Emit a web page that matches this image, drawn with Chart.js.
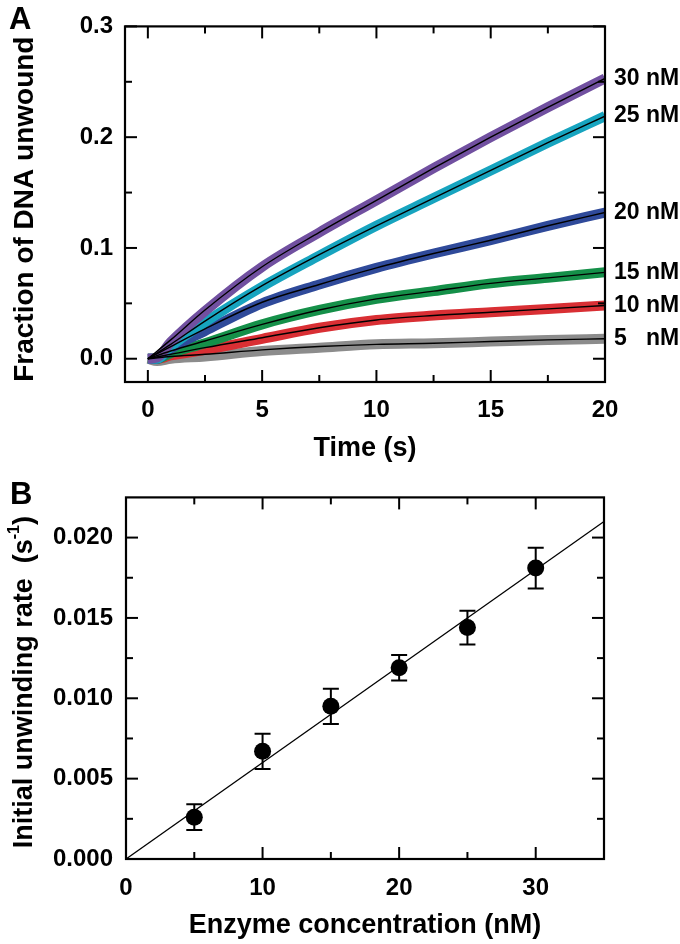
<!DOCTYPE html>
<html>
<head>
<meta charset="utf-8">
<script src="https://cdn.jsdelivr.net/npm/chart.js@4.4.1/dist/chart.umd.min.js"></script>
<style>
html, body { margin: 0; padding: 0; background: #fff; }
#wrapA { position: absolute; left: 0; top: 0; width: 680px; height: 470px; }
#wrapB { position: absolute; left: 0; top: 470px; width: 680px; height: 474px; }
</style>
</head>
<body>
<div id="wrapA"><canvas id="chartA"></canvas></div>
<div id="wrapB"><canvas id="chartB"></canvas></div>
<script>
// ---- panel A: unwinding time courses ----
const concLabels = ['30 nM', '25 nM', '20 nM', '15 nM', '10 nM', '5   nM'];
const colorsA = ['#7150a0', '#17a4bf', '#2f4a9a', '#159049', '#d92f34', '#8c8c8c'];

// time points of the raw traces (band centre) and of the fitted curves
const timeTrace = [0, 0.4, 1, 2.5, 5, 7.5, 10, 12.5, 15, 17.5, 20];
const trace30 = [0, 0.001, 0.015, 0.043, 0.083, 0.114, 0.143, 0.172, 0.200, 0.227, 0.253];
const trace25 = [0, 0.000, 0.011, 0.033, 0.065, 0.093, 0.120, 0.145, 0.170, 0.195, 0.219];
const trace20 = [0, 0.000, 0.009, 0.025, 0.050, 0.067, 0.082, 0.095, 0.107, 0.120, 0.132];
const trace15 = [0, 0.000, 0.005, 0.014, 0.031, 0.044, 0.054, 0.061, 0.068, 0.073, 0.078];
const trace10 = [0, 0.000, 0.003, 0.008, 0.018, 0.028, 0.035, 0.039, 0.042, 0.045, 0.048];
const trace5  = [0, -0.002, 0.000, 0.002, 0.007, 0.010, 0.013, 0.014, 0.0155, 0.017, 0.018];

const timeFit = [0, 1, 2.5, 5, 7.5, 10, 12.5, 15, 17.5, 20];
const fit30 = [0, 0.017, 0.044, 0.083, 0.114, 0.143, 0.172, 0.200, 0.227, 0.253];
const fit25 = [0, 0.013, 0.034, 0.066, 0.094, 0.120, 0.145, 0.170, 0.195, 0.219];
const fit20 = [0, 0.011, 0.027, 0.051, 0.067, 0.082, 0.095, 0.107, 0.120, 0.132];
const fit15 = [0, 0.007, 0.016, 0.031, 0.044, 0.054, 0.061, 0.068, 0.073, 0.078];
const fit10 = [0, 0.004, 0.010, 0.019, 0.028, 0.035, 0.039, 0.042, 0.045, 0.048];
const fit5  = [0, 0.002, 0.004, 0.008, 0.011, 0.013, 0.014, 0.0155, 0.017, 0.018];

const xTicksA = [0, 5, 10, 15, 20];
const xMinorA = [2.5, 7.5, 12.5, 17.5];
const yTicksA = [0, 0.1, 0.2, 0.3];
const yMinorA = [0.05, 0.15, 0.25];

// ---- panel B: initial rate vs enzyme ----
const concB = [5, 10, 15, 20, 25, 30];
const rateB = [0.0026, 0.0067, 0.0095, 0.0119, 0.0144, 0.0181];
const errB  = [0.0008, 0.0011, 0.0011, 0.0008, 0.00105, 0.00127];
const fitXB = [0, 35];
const fitYB = [0, 0.021];

const xTicksB = [0, 10, 20, 30];
const xMinorB = [5, 15, 25];
const yTicksB = [0, 0.005, 0.010, 0.015, 0.020];
const yMinorB = [0.0025, 0.0075, 0.0125, 0.0175];

const FONT = '"Liberation Sans", Arial, sans-serif';
const toXY = (xs, ys) => xs.map((x, i) => ({x: x, y: ys[i]}));

// frame with inward ticks on all four sides
const framePlugin = {
  id: 'frame',
  afterDraw(chart, args, o) {
    const {ctx, chartArea: a} = chart;
    const x = chart.scales.x, y = chart.scales.y;
    ctx.save();
    ctx.strokeStyle = '#000';
    ctx.lineWidth = 2.2;
    ctx.strokeRect(a.left, a.top, a.right - a.left, a.bottom - a.top);
    ctx.lineWidth = 2;
    const seg = (x1, y1, x2, y2) => { ctx.beginPath(); ctx.moveTo(x1, y1); ctx.lineTo(x2, y2); ctx.stroke(); };
    const xt = (list, len) => list.forEach(v => {
      const p = x.getPixelForValue(v);
      seg(p, a.bottom, p, a.bottom - len);
      seg(p, a.top, p, a.top + len);
    });
    const yt = (list, len) => list.forEach(v => {
      const p = y.getPixelForValue(v);
      seg(a.left, p, a.left + len, p);
      seg(a.right, p, a.right - len, p);
    });
    xt(o.xMajor, 12); xt(o.xMinor, 7);
    yt(o.yMajor, 12); yt(o.yMinor, 7);
    ctx.restore();
  }
};

// ---- chart A ----
const tracesA = [trace30, trace25, trace20, trace15, trace10, trace5];
const fitsA = [fit30, fit25, fit20, fit15, fit10, fit5];
const datasetsA = [];
tracesA.forEach((t, i) => datasetsA.push({
  data: toXY(timeTrace, t), borderColor: colorsA[i], borderWidth: 10, order: 2,
  pointRadius: 0, cubicInterpolationMode: 'monotone', fill: false
}));
fitsA.forEach(f => datasetsA.push({
  data: toXY(timeFit, f), borderColor: '#000', borderWidth: 1.4, order: 1,
  pointRadius: 0, cubicInterpolationMode: 'monotone', fill: false
}));

const textA = {
  id: 'textA',
  afterDraw(chart) {
    const {ctx, chartArea: a} = chart;
    const y = chart.scales.y;
    ctx.save();
    ctx.fillStyle = '#000';
    ctx.font = 'bold 23px ' + FONT;
    ctx.textAlign = 'left';
    ctx.textBaseline = 'middle';
    concLabels.forEach((lab, i) => {
      const f = fitsA[i];
      ctx.fillText(lab, 614, y.getPixelForValue(f[f.length - 1]));
    });
    ctx.font = 'bold 31px ' + FONT;
    ctx.textBaseline = 'alphabetic';
    ctx.fillText('A', 9, 29);
    ctx.font = 'bold 27px ' + FONT;
    ctx.textAlign = 'center';
    ctx.fillText('Time (s)', (a.left + a.right) / 2, 456);
    ctx.translate(25, (a.top + a.bottom) / 2 + 5);
    ctx.rotate(-Math.PI / 2);
    ctx.textBaseline = 'middle';
    ctx.font = 'bold 28px ' + FONT;
    ctx.fillText('Fraction of DNA unwound', 0, 0);
    ctx.restore();
  }
};

new Chart(document.getElementById('chartA'), {
  type: 'line',
  data: {datasets: datasetsA},
  options: {
    responsive: true, maintainAspectRatio: false, animation: false,
    layout: {padding: {top: 15, right: 75, left: 0, bottom: 0}},
    plugins: {legend: {display: false}, tooltip: {enabled: false},
      frame: {xMajor: xTicksA, xMinor: xMinorA, yMajor: yTicksA, yMinor: yMinorA}},
    scales: {
      x: {
        type: 'linear', min: -1, max: 20,
        grid: {display: false, drawTicks: false}, border: {display: false},
        afterBuildTicks: s => { s.ticks = xTicksA.map(v => ({value: v})); },
        afterFit: s => { s.height = 88; },
        ticks: {autoSkip: false, maxRotation: 0, padding: 14, color: '#000',
          font: {family: FONT, weight: 'bold', size: 24}, callback: v => String(v)}
      },
      y: {
        type: 'linear', min: -0.021, max: 0.3,
        grid: {display: false, drawTicks: false}, border: {display: false},
        afterBuildTicks: s => { s.ticks = yTicksA.map(v => ({value: v})); },
        afterFit: s => { s.width = 125; },
        ticks: {autoSkip: false, padding: 12, color: '#000',
          font: {family: FONT, weight: 'bold', size: 24}, callback: v => v.toFixed(1)}
      }
    }
  },
  plugins: [framePlugin, textA]
});

// ---- chart B ----
const errorBars = {
  id: 'errorBars',
  afterDatasetsDraw(chart) {
    const {ctx} = chart;
    const x = chart.scales.x, y = chart.scales.y;
    ctx.save();
    ctx.strokeStyle = '#000';
    ctx.lineWidth = 2;
    concB.forEach((c, i) => {
      const px = x.getPixelForValue(c);
      const t = y.getPixelForValue(rateB[i] + errB[i]);
      const b = y.getPixelForValue(rateB[i] - errB[i]);
      ctx.beginPath();
      ctx.moveTo(px, t); ctx.lineTo(px, b);
      ctx.moveTo(px - 8, t); ctx.lineTo(px + 8, t);
      ctx.moveTo(px - 8, b); ctx.lineTo(px + 8, b);
      ctx.stroke();
    });
    ctx.restore();
  }
};

const textB = {
  id: 'textB',
  afterDraw(chart) {
    const {ctx, chartArea: a} = chart;
    ctx.save();
    ctx.fillStyle = '#000';
    ctx.font = 'bold 31px ' + FONT;
    ctx.textAlign = 'left';
    ctx.fillText('B', 10, 34);
    ctx.font = 'bold 27px ' + FONT;
    ctx.textAlign = 'center';
    ctx.fillText('Enzyme concentration (nM)', (a.left + a.right) / 2, 463);
    // rotated y title with superscript
    const main = 'Initial unwinding rate  (s';
    ctx.font = 'bold 27px ' + FONT;
    const w1 = ctx.measureText(main).width;
    ctx.font = 'bold 16px ' + FONT;
    const w2 = ctx.measureText('-1').width;
    ctx.font = 'bold 27px ' + FONT;
    const w3 = ctx.measureText(')').width;
    const total = w1 + w2 + w3;
    ctx.translate(25, (a.top + a.bottom) / 2 + 4);
    ctx.rotate(-Math.PI / 2);
    ctx.textAlign = 'left';
    ctx.textBaseline = 'middle';
    let xs = -total / 2;
    ctx.fillText(main, xs, 0);
    xs += w1;
    ctx.font = 'bold 16px ' + FONT;
    ctx.fillText('-1', xs, -10);
    xs += w2;
    ctx.font = 'bold 27px ' + FONT;
    ctx.fillText(')', xs, 0);
    ctx.restore();
  }
};

new Chart(document.getElementById('chartB'), {
  type: 'line',
  data: {
    datasets: [
      {data: toXY(fitXB, fitYB), borderColor: '#000', borderWidth: 1.3, pointRadius: 0, fill: false},
      {data: toXY(concB, rateB), showLine: false, pointRadius: 8.5, pointBackgroundColor: '#000',
        pointBorderWidth: 0, borderColor: '#000'}
    ]
  },
  options: {
    responsive: true, maintainAspectRatio: false, animation: false,
    layout: {padding: {top: 26, right: 76, left: 0, bottom: 0}},
    plugins: {legend: {display: false}, tooltip: {enabled: false},
      frame: {xMajor: xTicksB, xMinor: xMinorB, yMajor: yTicksB, yMinor: yMinorB}},
    scales: {
      x: {
        type: 'linear', min: 0, max: 35,
        grid: {display: false, drawTicks: false}, border: {display: false},
        afterBuildTicks: s => { s.ticks = xTicksB.map(v => ({value: v})); },
        afterFit: s => { s.height = 85; },
        ticks: {autoSkip: false, maxRotation: 0, padding: 15, color: '#000',
          font: {family: FONT, weight: 'bold', size: 24}, callback: v => String(v)}
      },
      y: {
        type: 'linear', min: 0, max: 0.0225,
        grid: {display: false, drawTicks: false}, border: {display: false},
        afterBuildTicks: s => { s.ticks = yTicksB.map(v => ({value: v})); },
        afterFit: s => { s.width = 126; },
        ticks: {autoSkip: false, padding: 13, color: '#000',
          font: {family: FONT, weight: 'bold', size: 24}, callback: v => v.toFixed(3)}
      }
    }
  },
  plugins: [framePlugin, errorBars, textB]
});
</script>
</body>
</html>
